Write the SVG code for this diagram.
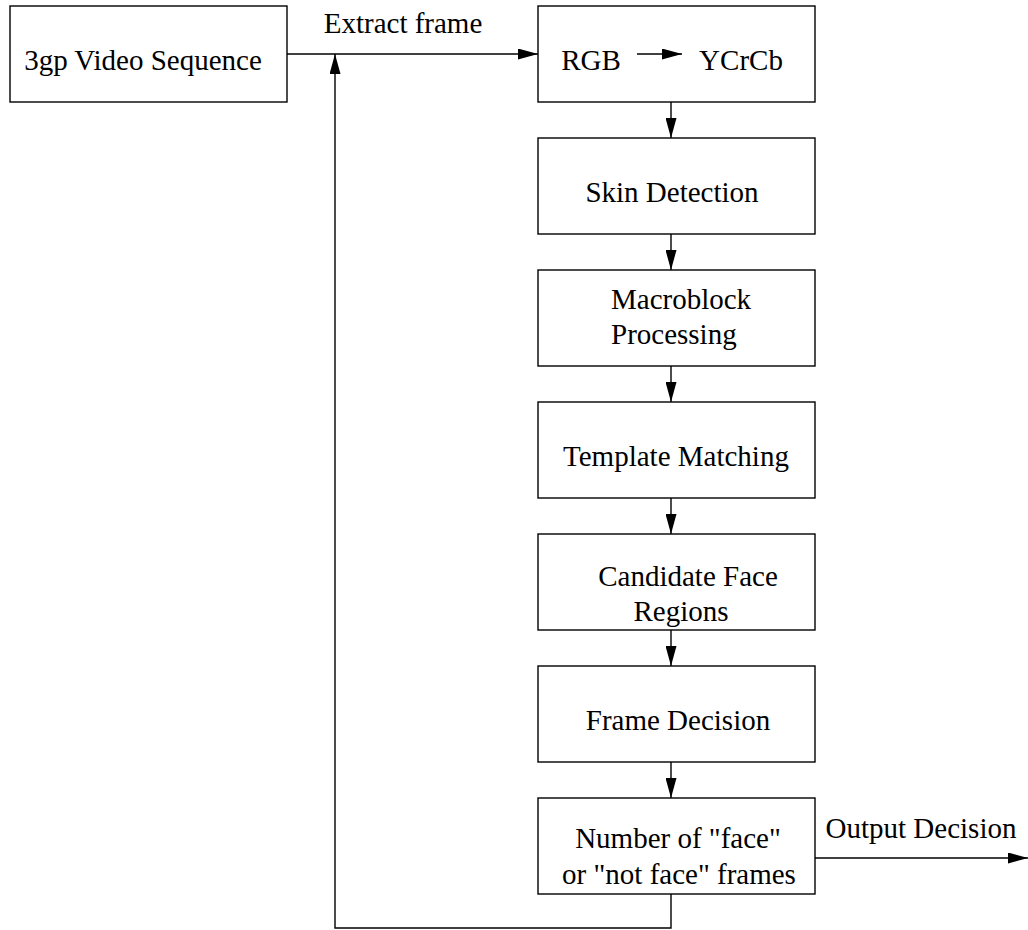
<svg xmlns="http://www.w3.org/2000/svg" width="1028" height="930" viewBox="0 0 1028 930">
  <style>
    .box { fill: #fff; stroke: #000; stroke-width: 1.4; }
    .wire { fill: none; stroke: #000; stroke-width: 1.4; }
    text { font-family: "Liberation Serif", "Times New Roman", serif; font-size: 29px; fill: #000; }
    .c { text-anchor: middle; }
  </style>
  <defs>
    <marker id="arrow" viewBox="0 0 20 11" refX="20" refY="5.5" markerWidth="20" markerHeight="11" markerUnits="userSpaceOnUse" orient="auto">
      <path d="M0,0 L20,5.5 L0,11 Z" fill="#000"/>
    </marker>
  </defs>
  <rect width="1028" height="930" fill="#fff"/>

  <!-- connectors -->
  <g id="connectors">
    <line class="wire" x1="287" y1="54" x2="538" y2="54" marker-end="url(#arrow)"/>
    <line class="wire" x1="671" y1="102" x2="671" y2="138" marker-end="url(#arrow)"/>
    <line class="wire" x1="671" y1="234" x2="671" y2="270" marker-end="url(#arrow)"/>
    <line class="wire" x1="671" y1="366" x2="671" y2="402" marker-end="url(#arrow)"/>
    <line class="wire" x1="671" y1="498" x2="671" y2="534" marker-end="url(#arrow)"/>
    <line class="wire" x1="671" y1="630" x2="671" y2="666" marker-end="url(#arrow)"/>
    <line class="wire" x1="671" y1="762" x2="671" y2="798" marker-end="url(#arrow)"/>
    <line class="wire" x1="815" y1="858" x2="1028" y2="858" marker-end="url(#arrow)"/>
    <polyline class="wire" points="671,894 671,928 335,928 335,54" marker-end="url(#arrow)"/>
    <text x="403" y="33" class="c">Extract frame</text>
    <text x="921" y="838" class="c">Output Decision</text>
  </g>

  <g id="video-sequence">
    <rect class="box" x="10" y="6" width="277" height="96"/>
    <text x="143" y="70" class="c">3gp Video Sequence</text>
  </g>

  <g id="color-convert">
    <rect class="box" x="538" y="6" width="277" height="96"/>
    <text x="591" y="70" class="c">RGB</text>
    <line class="wire" x1="637" y1="54" x2="682" y2="54" marker-end="url(#arrow)"/>
    <text x="741" y="70" class="c">YCrCb</text>
  </g>

  <g id="skin-detection">
    <rect class="box" x="538" y="138" width="277" height="96"/>
    <text x="672" y="202" class="c">Skin Detection</text>
  </g>

  <g id="macroblock">
    <rect class="box" x="538" y="270" width="277" height="96"/>
    <text x="611" y="309">Macroblock</text>
    <text x="611" y="344">Processing</text>
  </g>

  <g id="template-matching">
    <rect class="box" x="538" y="402" width="277" height="96"/>
    <text x="676" y="466" class="c">Template Matching</text>
  </g>

  <g id="candidate-regions">
    <rect class="box" x="538" y="534" width="277" height="96"/>
    <text x="688" y="586" class="c">Candidate Face</text>
    <text x="681" y="621" class="c">Regions</text>
  </g>

  <g id="frame-decision">
    <rect class="box" x="538" y="666" width="277" height="96"/>
    <text x="678" y="730" class="c">Frame Decision</text>
  </g>

  <g id="frame-count">
    <rect class="box" x="538" y="798" width="277" height="96"/>
    <text x="678" y="848" class="c">Number of "face"</text>
    <text x="679" y="884" class="c">or "not face" frames</text>
  </g>
</svg>
